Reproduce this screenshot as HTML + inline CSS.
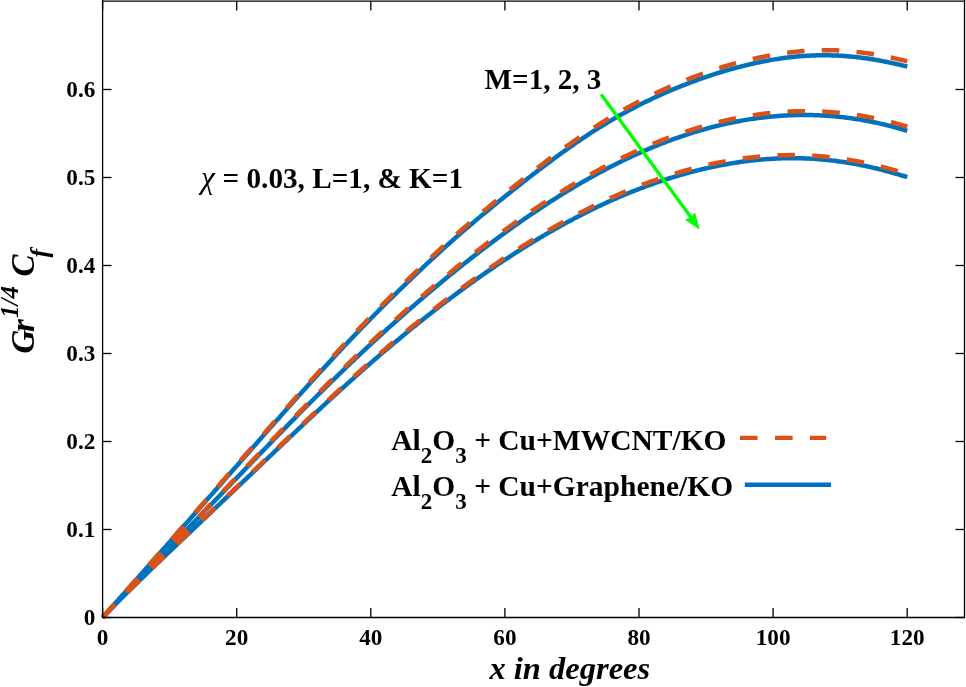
<!DOCTYPE html>
<html><head><meta charset="utf-8"><style>
html,body{margin:0;padding:0;background:#fff;}
body{width:966px;height:687px;overflow:hidden;position:relative;}
svg{position:absolute;left:0;top:0;will-change:transform;}
text{font-family:"Liberation Serif",serif;font-weight:bold;fill:#000;}
</style></head><body>
<svg width="966" height="687" viewBox="0 0 966 687">
<rect x="0" y="0" width="966" height="687" fill="#fff"/>
<g fill="none" stroke-width="4.5" stroke-linejoin="round" stroke-linecap="butt">
<path d="M102.60 617.50 L104.10 615.81 L105.60 614.12 L107.10 612.43 L108.60 610.74 L110.10 609.05 L111.60 607.37 L113.10 605.68 L114.60 603.99 L116.10 602.31 L117.60 600.62 L119.10 598.93 L120.60 597.25 L122.10 595.56 L123.60 593.87 L125.10 592.19 L126.60 590.50 L128.10 588.82 L129.60 587.13 L131.10 585.45 L132.60 583.76 L134.10 582.08 L135.60 580.39 L137.10 578.70 L138.60 577.02 L140.10 575.33 L141.60 573.65 L143.10 571.96 L144.60 570.27 L146.10 568.59 L147.60 566.90 L149.10 565.21 L150.60 563.52 L152.10 561.83 L153.60 560.15 L155.10 558.46 L156.60 556.77 L158.10 555.08 L159.60 553.39 L161.10 551.70 L162.60 550.01 L164.10 548.31 L165.60 546.62 L167.10 544.93 L168.60 543.24 L170.10 541.54 L171.60 539.85 L173.10 538.16 L174.60 536.46 L176.10 534.77 L177.60 533.07 L179.10 531.37 L180.60 529.68 L182.10 527.98 L183.60 526.28 L185.10 524.58 L186.60 522.89 L188.10 521.19 L189.60 519.49 L191.10 517.79 L192.60 516.09 L194.10 514.39 L195.60 512.68 L197.10 510.98 L198.60 509.28 L200.10 507.58 L201.60 505.87 L203.10 504.17 L204.60 502.47 L206.10 500.76 L207.60 499.06 L209.10 497.35 L210.60 495.64 L212.10 493.94 L213.60 492.23 L215.10 490.53 L216.60 488.82 L218.10 487.11 L219.60 485.40 L221.10 483.70 L222.60 481.99 L224.10 480.28 L225.60 478.57 L227.10 476.86 L228.60 475.15 L230.10 473.44 L231.60 471.74 L233.10 470.03 L234.60 468.32 L236.10 466.61 L237.60 464.90 L239.10 463.19 L240.60 461.48 L242.10 459.77 L243.60 458.07 L245.10 456.36 L246.60 454.65 L248.10 452.94 L249.60 451.23 L251.10 449.53 L252.60 447.82 L254.10 446.11 L255.60 444.41 L257.10 442.70 L258.60 441.00 L260.10 439.29 L261.60 437.59 L263.10 435.88 L264.60 434.18 L266.10 432.48 L267.60 430.78 L269.10 429.08 L270.60 427.38 L272.10 425.68 L273.60 423.98 L275.10 422.29 L276.60 420.59 L278.10 418.90 L279.60 417.21 L281.10 415.51 L282.60 413.82 L284.10 412.13 L285.60 410.45 L287.10 408.76 L288.60 407.07 L290.10 405.39 L291.60 403.71 L293.10 402.03 L294.60 400.35 L296.10 398.67 L297.60 397.00 L299.10 395.33 L300.60 393.66 L302.10 391.99 L303.60 390.32 L305.10 388.66 L306.60 386.99 L308.10 385.33 L309.60 383.68 L311.10 382.02 L312.60 380.37 L314.10 378.72 L315.60 377.07 L317.10 375.42 L318.60 373.78 L320.10 372.14 L321.60 370.51 L323.10 368.87 L324.60 367.24 L326.10 365.61 L327.60 363.99 L329.10 362.37 L330.60 360.75 L332.10 359.13 L333.60 357.52 L335.10 355.91 L336.60 354.30 L338.10 352.70 L339.60 351.10 L341.10 349.50 L342.60 347.91 L344.10 346.32 L345.60 344.73 L347.10 343.15 L348.60 341.57 L350.10 339.99 L351.60 338.42 L353.10 336.85 L354.60 335.28 L356.10 333.72 L357.60 332.16 L359.10 330.61 L360.60 329.05 L362.10 327.51 L363.60 325.96 L365.10 324.42 L366.60 322.88 L368.10 321.35 L369.60 319.82 L371.10 318.29 L372.60 316.77 L374.10 315.25 L375.60 313.73 L377.10 312.22 L378.60 310.71 L380.10 309.20 L381.60 307.70 L383.10 306.20 L384.60 304.70 L386.10 303.21 L387.60 301.72 L389.10 300.24 L390.60 298.75 L392.10 297.28 L393.60 295.80 L395.10 294.33 L396.60 292.86 L398.10 291.39 L399.60 289.93 L401.10 288.47 L402.60 287.02 L404.10 285.56 L405.60 284.11 L407.10 282.67 L408.60 281.22 L410.10 279.78 L411.60 278.34 L413.10 276.91 L414.60 275.47 L416.10 274.05 L417.60 272.62 L419.10 271.20 L420.60 269.77 L422.10 268.36 L423.60 266.94 L425.10 265.53 L426.60 264.12 L428.10 262.72 L429.60 261.32 L431.10 259.92 L432.60 258.53 L434.10 257.14 L435.60 255.75 L437.10 254.37 L438.60 252.99 L440.10 251.62 L441.60 250.25 L443.10 248.89 L444.60 247.53 L446.10 246.18 L447.60 244.83 L449.10 243.48 L450.60 242.14 L452.10 240.81 L453.60 239.48 L455.10 238.16 L456.60 236.84 L458.10 235.53 L459.60 234.22 L461.10 232.91 L462.60 231.62 L464.10 230.32 L465.60 229.03 L467.10 227.75 L468.60 226.47 L470.10 225.20 L471.60 223.92 L473.10 222.66 L474.60 221.40 L476.10 220.14 L477.60 218.88 L479.10 217.63 L480.60 216.38 L482.10 215.13 L483.60 213.89 L485.10 212.65 L486.60 211.42 L488.10 210.18 L489.60 208.95 L491.10 207.72 L492.60 206.50 L494.10 205.28 L495.60 204.06 L497.10 202.84 L498.60 201.62 L500.10 200.41 L501.60 199.20 L503.10 197.99 L504.60 196.79 L506.10 195.58 L507.60 194.38 L509.10 193.18 L510.60 191.99 L512.10 190.79 L513.60 189.60 L515.10 188.41 L516.60 187.23 L518.10 186.04 L519.60 184.86 L521.10 183.69 L522.60 182.51 L524.10 181.34 L525.60 180.17 L527.10 179.00 L528.60 177.83 L530.10 176.67 L531.60 175.51 L533.10 174.36 L534.60 173.20 L536.10 172.06 L537.60 170.91 L539.10 169.77 L540.60 168.62 L542.10 167.49 L543.60 166.35 L545.10 165.23 L546.60 164.10 L548.10 162.98 L549.60 161.86 L551.10 160.74 L552.60 159.63 L554.10 158.52 L555.60 157.42 L557.10 156.32 L558.60 155.23 L560.10 154.14 L561.60 153.05 L563.10 151.97 L564.60 150.89 L566.10 149.82 L567.60 148.75 L569.10 147.69 L570.60 146.63 L572.10 145.58 L573.60 144.54 L575.10 143.50 L576.60 142.46 L578.10 141.43 L579.60 140.41 L581.10 139.39 L582.60 138.38 L584.10 137.37 L585.60 136.37 L587.10 135.38 L588.60 134.39 L590.10 133.41 L591.60 132.44 L593.10 131.47 L594.60 130.51 L596.10 129.55 L597.60 128.60 L599.10 127.66 L600.60 126.73 L602.10 125.80 L603.60 124.88 L605.10 123.97 L606.60 123.06 L608.10 122.16 L609.60 121.27 L611.10 120.38 L612.60 119.50 L614.10 118.63 L615.60 117.76 L617.10 116.90 L618.60 116.05 L620.10 115.21 L621.60 114.37 L623.10 113.54 L624.60 112.71 L626.10 111.90 L627.60 111.08 L629.10 110.28 L630.60 109.48 L632.10 108.69 L633.60 107.91 L635.10 107.13 L636.60 106.36 L638.10 105.59 L639.60 104.83 L641.10 104.08 L642.60 103.33 L644.10 102.59 L645.60 101.86 L647.10 101.13 L648.60 100.41 L650.10 99.69 L651.60 98.98 L653.10 98.27 L654.60 97.58 L656.10 96.88 L657.60 96.20 L659.10 95.51 L660.60 94.84 L662.10 94.17 L663.60 93.50 L665.10 92.84 L666.60 92.19 L668.10 91.54 L669.60 90.90 L671.10 90.26 L672.60 89.63 L674.10 89.01 L675.60 88.39 L677.10 87.77 L678.60 87.16 L680.10 86.56 L681.60 85.96 L683.10 85.36 L684.60 84.78 L686.10 84.19 L687.60 83.61 L689.10 83.04 L690.60 82.47 L692.10 81.91 L693.60 81.36 L695.10 80.80 L696.60 80.26 L698.10 79.72 L699.60 79.18 L701.10 78.65 L702.60 78.13 L704.10 77.61 L705.60 77.09 L707.10 76.58 L708.60 76.08 L710.10 75.58 L711.60 75.08 L713.10 74.60 L714.60 74.11 L716.10 73.63 L717.60 73.16 L719.10 72.70 L720.60 72.23 L722.10 71.78 L723.60 71.33 L725.10 70.88 L726.60 70.44 L728.10 70.00 L729.60 69.58 L731.10 69.15 L732.60 68.73 L734.10 68.32 L735.60 67.91 L737.10 67.51 L738.60 67.11 L740.10 66.72 L741.60 66.34 L743.10 65.96 L744.60 65.59 L746.10 65.22 L747.60 64.86 L749.10 64.50 L750.60 64.15 L752.10 63.81 L753.60 63.47 L755.10 63.14 L756.60 62.81 L758.10 62.49 L759.60 62.18 L761.10 61.87 L762.60 61.57 L764.10 61.27 L765.60 60.98 L767.10 60.70 L768.60 60.43 L770.10 60.16 L771.60 59.89 L773.10 59.64 L774.60 59.39 L776.10 59.15 L777.60 58.91 L779.10 58.68 L780.60 58.46 L782.10 58.25 L783.60 58.04 L785.10 57.84 L786.60 57.64 L788.10 57.46 L789.60 57.28 L791.10 57.11 L792.60 56.94 L794.10 56.79 L795.60 56.64 L797.10 56.49 L798.60 56.36 L800.10 56.23 L801.60 56.11 L803.10 56.00 L804.60 55.90 L806.10 55.80 L807.60 55.72 L809.10 55.64 L810.60 55.56 L812.10 55.50 L813.60 55.44 L815.10 55.39 L816.60 55.35 L818.10 55.32 L819.60 55.29 L821.10 55.28 L822.60 55.27 L824.10 55.27 L825.60 55.27 L827.10 55.29 L828.60 55.31 L830.10 55.34 L831.60 55.38 L833.10 55.42 L834.60 55.48 L836.10 55.54 L837.60 55.61 L839.10 55.69 L840.60 55.77 L842.10 55.86 L843.60 55.96 L845.10 56.07 L846.60 56.19 L848.10 56.31 L849.60 56.44 L851.10 56.58 L852.60 56.73 L854.10 56.88 L855.60 57.04 L857.10 57.21 L858.60 57.38 L860.10 57.57 L861.60 57.76 L863.10 57.95 L864.60 58.16 L866.10 58.37 L867.60 58.59 L869.10 58.81 L870.60 59.04 L872.10 59.28 L873.60 59.53 L875.10 59.78 L876.60 60.04 L878.10 60.30 L879.60 60.57 L881.10 60.85 L882.60 61.13 L884.10 61.42 L885.60 61.72 L887.10 62.02 L888.60 62.33 L890.10 62.64 L891.60 62.96 L893.10 63.28 L894.60 63.61 L896.10 63.95 L897.60 64.29 L899.10 64.63 L900.60 64.98 L902.10 65.33 L903.60 65.69 L905.10 66.06 L906.60 66.43 L907.30 66.60" stroke="#0072bd" />
<path d="M102.60 617.50 L104.10 615.86 L105.60 614.22 L107.10 612.59 L108.60 610.96 L110.10 609.34 L111.60 607.72 L113.10 606.11 L114.60 604.50 L116.10 602.90 L117.60 601.29 L119.10 599.70 L120.60 598.11 L122.10 596.52 L123.60 594.93 L125.10 593.35 L126.60 591.77 L128.10 590.19 L129.60 588.62 L131.10 587.05 L132.60 585.48 L134.10 583.92 L135.60 582.35 L137.10 580.79 L138.60 579.23 L140.10 577.68 L141.60 576.12 L143.10 574.57 L144.60 573.02 L146.10 571.47 L147.60 569.92 L149.10 568.37 L150.60 566.82 L152.10 565.28 L153.60 563.73 L155.10 562.19 L156.60 560.65 L158.10 559.11 L159.60 557.57 L161.10 556.02 L162.60 554.48 L164.10 552.94 L165.60 551.40 L167.10 549.86 L168.60 548.32 L170.10 546.79 L171.60 545.25 L173.10 543.71 L174.60 542.17 L176.10 540.63 L177.60 539.09 L179.10 537.55 L180.60 536.01 L182.10 534.47 L183.60 532.93 L185.10 531.38 L186.60 529.84 L188.10 528.30 L189.60 526.76 L191.10 525.21 L192.60 523.67 L194.10 522.12 L195.60 520.58 L197.10 519.03 L198.60 517.49 L200.10 515.94 L201.60 514.39 L203.10 512.84 L204.60 511.29 L206.10 509.74 L207.60 508.19 L209.10 506.64 L210.60 505.09 L212.10 503.54 L213.60 501.98 L215.10 500.43 L216.60 498.88 L218.10 497.32 L219.60 495.76 L221.10 494.21 L222.60 492.65 L224.10 491.09 L225.60 489.54 L227.10 487.98 L228.60 486.42 L230.10 484.86 L231.60 483.30 L233.10 481.74 L234.60 480.19 L236.10 478.63 L237.60 477.07 L239.10 475.51 L240.60 473.95 L242.10 472.39 L243.60 470.83 L245.10 469.27 L246.60 467.71 L248.10 466.16 L249.60 464.60 L251.10 463.04 L252.60 461.48 L254.10 459.93 L255.60 458.37 L257.10 456.82 L258.60 455.27 L260.10 453.71 L261.60 452.16 L263.10 450.61 L264.60 449.06 L266.10 447.51 L267.60 445.96 L269.10 444.41 L270.60 442.87 L272.10 441.32 L273.60 439.78 L275.10 438.24 L276.60 436.70 L278.10 435.16 L279.60 433.62 L281.10 432.08 L282.60 430.55 L284.10 429.02 L285.60 427.48 L287.10 425.95 L288.60 424.43 L290.10 422.90 L291.60 421.37 L293.10 419.85 L294.60 418.33 L296.10 416.81 L297.60 415.29 L299.10 413.78 L300.60 412.26 L302.10 410.75 L303.60 409.24 L305.10 407.74 L306.60 406.23 L308.10 404.73 L309.60 403.23 L311.10 401.73 L312.60 400.23 L314.10 398.74 L315.60 397.25 L317.10 395.76 L318.60 394.27 L320.10 392.79 L321.60 391.30 L323.10 389.82 L324.60 388.35 L326.10 386.87 L327.60 385.40 L329.10 383.93 L330.60 382.46 L332.10 381.00 L333.60 379.54 L335.10 378.08 L336.60 376.62 L338.10 375.17 L339.60 373.71 L341.10 372.27 L342.60 370.82 L344.10 369.38 L345.60 367.94 L347.10 366.50 L348.60 365.06 L350.10 363.63 L351.60 362.20 L353.10 360.78 L354.60 359.35 L356.10 357.93 L357.60 356.52 L359.10 355.10 L360.60 353.69 L362.10 352.28 L363.60 350.88 L365.10 349.47 L366.60 348.07 L368.10 346.68 L369.60 345.28 L371.10 343.89 L372.60 342.50 L374.10 341.12 L375.60 339.74 L377.10 338.36 L378.60 336.98 L380.10 335.61 L381.60 334.24 L383.10 332.87 L384.60 331.51 L386.10 330.15 L387.60 328.79 L389.10 327.43 L390.60 326.08 L392.10 324.73 L393.60 323.39 L395.10 322.04 L396.60 320.70 L398.10 319.37 L399.60 318.04 L401.10 316.71 L402.60 315.38 L404.10 314.05 L405.60 312.73 L407.10 311.42 L408.60 310.10 L410.10 308.79 L411.60 307.48 L413.10 306.18 L414.60 304.88 L416.10 303.58 L417.60 302.28 L419.10 300.99 L420.60 299.70 L422.10 298.42 L423.60 297.13 L425.10 295.85 L426.60 294.58 L428.10 293.31 L429.60 292.04 L431.10 290.77 L432.60 289.51 L434.10 288.25 L435.60 286.99 L437.10 285.74 L438.60 284.49 L440.10 283.24 L441.60 282.00 L443.10 280.76 L444.60 279.53 L446.10 278.29 L447.60 277.07 L449.10 275.84 L450.60 274.62 L452.10 273.40 L453.60 272.18 L455.10 270.97 L456.60 269.76 L458.10 268.56 L459.60 267.36 L461.10 266.16 L462.60 264.96 L464.10 263.77 L465.60 262.59 L467.10 261.40 L468.60 260.22 L470.10 259.05 L471.60 257.87 L473.10 256.70 L474.60 255.54 L476.10 254.38 L477.60 253.22 L479.10 252.06 L480.60 250.91 L482.10 249.76 L483.60 248.62 L485.10 247.48 L486.60 246.34 L488.10 245.21 L489.60 244.08 L491.10 242.96 L492.60 241.84 L494.10 240.72 L495.60 239.60 L497.10 238.49 L498.60 237.39 L500.10 236.29 L501.60 235.19 L503.10 234.09 L504.60 233.00 L506.10 231.92 L507.60 230.83 L509.10 229.75 L510.60 228.68 L512.10 227.61 L513.60 226.54 L515.10 225.48 L516.60 224.42 L518.10 223.36 L519.60 222.31 L521.10 221.27 L522.60 220.22 L524.10 219.19 L525.60 218.15 L527.10 217.12 L528.60 216.09 L530.10 215.07 L531.60 214.05 L533.10 213.04 L534.60 212.03 L536.10 211.03 L537.60 210.02 L539.10 209.03 L540.60 208.03 L542.10 207.05 L543.60 206.06 L545.10 205.08 L546.60 204.11 L548.10 203.14 L549.60 202.17 L551.10 201.21 L552.60 200.25 L554.10 199.30 L555.60 198.35 L557.10 197.40 L558.60 196.46 L560.10 195.53 L561.60 194.60 L563.10 193.67 L564.60 192.75 L566.10 191.83 L567.60 190.92 L569.10 190.01 L570.60 189.11 L572.10 188.21 L573.60 187.31 L575.10 186.42 L576.60 185.54 L578.10 184.66 L579.60 183.78 L581.10 182.91 L582.60 182.05 L584.10 181.19 L585.60 180.33 L587.10 179.48 L588.60 178.63 L590.10 177.79 L591.60 176.95 L593.10 176.12 L594.60 175.29 L596.10 174.47 L597.60 173.65 L599.10 172.84 L600.60 172.04 L602.10 171.23 L603.60 170.44 L605.10 169.64 L606.60 168.86 L608.10 168.08 L609.60 167.30 L611.10 166.53 L612.60 165.76 L614.10 165.00 L615.60 164.24 L617.10 163.49 L618.60 162.75 L620.10 162.00 L621.60 161.27 L623.10 160.54 L624.60 159.81 L626.10 159.09 L627.60 158.38 L629.10 157.67 L630.60 156.97 L632.10 156.27 L633.60 155.57 L635.10 154.89 L636.60 154.20 L638.10 153.53 L639.60 152.86 L641.10 152.19 L642.60 151.53 L644.10 150.87 L645.60 150.22 L647.10 149.58 L648.60 148.94 L650.10 148.31 L651.60 147.68 L653.10 147.06 L654.60 146.44 L656.10 145.83 L657.60 145.22 L659.10 144.62 L660.60 144.03 L662.10 143.44 L663.60 142.86 L665.10 142.28 L666.60 141.71 L668.10 141.14 L669.60 140.58 L671.10 140.03 L672.60 139.48 L674.10 138.94 L675.60 138.40 L677.10 137.87 L678.60 137.34 L680.10 136.82 L681.60 136.31 L683.10 135.80 L684.60 135.30 L686.10 134.80 L687.60 134.31 L689.10 133.83 L690.60 133.35 L692.10 132.87 L693.60 132.41 L695.10 131.95 L696.60 131.49 L698.10 131.04 L699.60 130.60 L701.10 130.16 L702.60 129.73 L704.10 129.30 L705.60 128.88 L707.10 128.47 L708.60 128.06 L710.10 127.66 L711.60 127.27 L713.10 126.88 L714.60 126.49 L716.10 126.12 L717.60 125.74 L719.10 125.38 L720.60 125.02 L722.10 124.67 L723.60 124.32 L725.10 123.98 L726.60 123.65 L728.10 123.32 L729.60 123.00 L731.10 122.68 L732.60 122.37 L734.10 122.07 L735.60 121.77 L737.10 121.48 L738.60 121.20 L740.10 120.92 L741.60 120.65 L743.10 120.38 L744.60 120.12 L746.10 119.87 L747.60 119.62 L749.10 119.38 L750.60 119.15 L752.10 118.92 L753.60 118.70 L755.10 118.48 L756.60 118.27 L758.10 118.07 L759.60 117.87 L761.10 117.68 L762.60 117.50 L764.10 117.32 L765.60 117.15 L767.10 116.99 L768.60 116.83 L770.10 116.68 L771.60 116.54 L773.10 116.40 L774.60 116.27 L776.10 116.14 L777.60 116.02 L779.10 115.91 L780.60 115.80 L782.10 115.70 L783.60 115.61 L785.10 115.52 L786.60 115.44 L788.10 115.37 L789.60 115.30 L791.10 115.24 L792.60 115.19 L794.10 115.14 L795.60 115.10 L797.10 115.07 L798.60 115.04 L800.10 115.02 L801.60 115.00 L803.10 115.00 L804.60 115.00 L806.10 115.00 L807.60 115.01 L809.10 115.03 L810.60 115.06 L812.10 115.09 L813.60 115.13 L815.10 115.17 L816.60 115.23 L818.10 115.28 L819.60 115.35 L821.10 115.42 L822.60 115.50 L824.10 115.58 L825.60 115.68 L827.10 115.78 L828.60 115.88 L830.10 115.99 L831.60 116.11 L833.10 116.24 L834.60 116.37 L836.10 116.51 L837.60 116.65 L839.10 116.81 L840.60 116.97 L842.10 117.13 L843.60 117.30 L845.10 117.48 L846.60 117.67 L848.10 117.86 L849.60 118.06 L851.10 118.27 L852.60 118.48 L854.10 118.70 L855.60 118.93 L857.10 119.16 L858.60 119.40 L860.10 119.65 L861.60 119.90 L863.10 120.16 L864.60 120.43 L866.10 120.70 L867.60 120.99 L869.10 121.27 L870.60 121.57 L872.10 121.87 L873.60 122.18 L875.10 122.49 L876.60 122.82 L878.10 123.14 L879.60 123.48 L881.10 123.82 L882.60 124.17 L884.10 124.53 L885.60 124.89 L887.10 125.26 L888.60 125.64 L890.10 126.02 L891.60 126.41 L893.10 126.81 L894.60 127.21 L896.10 127.62 L897.60 128.04 L899.10 128.46 L900.60 128.90 L902.10 129.33 L903.60 129.78 L905.10 130.23 L906.60 130.69 L907.30 130.91" stroke="#0072bd" />
<path d="M102.60 617.50 L104.10 615.95 L105.60 614.41 L107.10 612.87 L108.60 611.33 L110.10 609.80 L111.60 608.27 L113.10 606.75 L114.60 605.23 L116.10 603.72 L117.60 602.20 L119.10 600.70 L120.60 599.19 L122.10 597.70 L123.60 596.20 L125.10 594.71 L126.60 593.22 L128.10 591.73 L129.60 590.25 L131.10 588.77 L132.60 587.29 L134.10 585.81 L135.60 584.34 L137.10 582.87 L138.60 581.41 L140.10 579.94 L141.60 578.48 L143.10 577.02 L144.60 575.56 L146.10 574.11 L147.60 572.65 L149.10 571.20 L150.60 569.75 L152.10 568.31 L153.60 566.86 L155.10 565.42 L156.60 563.97 L158.10 562.53 L159.60 561.09 L161.10 559.65 L162.60 558.22 L164.10 556.78 L165.60 555.35 L167.10 553.91 L168.60 552.48 L170.10 551.05 L171.60 549.62 L173.10 548.19 L174.60 546.76 L176.10 545.33 L177.60 543.90 L179.10 542.48 L180.60 541.05 L182.10 539.62 L183.60 538.20 L185.10 536.77 L186.60 535.35 L188.10 533.93 L189.60 532.50 L191.10 531.08 L192.60 529.66 L194.10 528.23 L195.60 526.81 L197.10 525.39 L198.60 523.97 L200.10 522.54 L201.60 521.12 L203.10 519.70 L204.60 518.28 L206.10 516.86 L207.60 515.43 L209.10 514.01 L210.60 512.59 L212.10 511.17 L213.60 509.74 L215.10 508.32 L216.60 506.90 L218.10 505.47 L219.60 504.05 L221.10 502.63 L222.60 501.20 L224.10 499.78 L225.60 498.36 L227.10 496.93 L228.60 495.51 L230.10 494.08 L231.60 492.66 L233.10 491.23 L234.60 489.80 L236.10 488.38 L237.60 486.95 L239.10 485.53 L240.60 484.10 L242.10 482.67 L243.60 481.24 L245.10 479.82 L246.60 478.39 L248.10 476.96 L249.60 475.53 L251.10 474.10 L252.60 472.67 L254.10 471.25 L255.60 469.82 L257.10 468.39 L258.60 466.96 L260.10 465.53 L261.60 464.10 L263.10 462.67 L264.60 461.24 L266.10 459.81 L267.60 458.38 L269.10 456.95 L270.60 455.53 L272.10 454.10 L273.60 452.67 L275.10 451.24 L276.60 449.81 L278.10 448.38 L279.60 446.96 L281.10 445.53 L282.60 444.10 L284.10 442.68 L285.60 441.25 L287.10 439.83 L288.60 438.40 L290.10 436.98 L291.60 435.56 L293.10 434.13 L294.60 432.71 L296.10 431.29 L297.60 429.87 L299.10 428.45 L300.60 427.04 L302.10 425.62 L303.60 424.21 L305.10 422.79 L306.60 421.38 L308.10 419.97 L309.60 418.56 L311.10 417.15 L312.60 415.74 L314.10 414.34 L315.60 412.94 L317.10 411.53 L318.60 410.13 L320.10 408.74 L321.60 407.34 L323.10 405.95 L324.60 404.55 L326.10 403.16 L327.60 401.78 L329.10 400.39 L330.60 399.01 L332.10 397.63 L333.60 396.25 L335.10 394.87 L336.60 393.50 L338.10 392.13 L339.60 390.76 L341.10 389.39 L342.60 388.03 L344.10 386.67 L345.60 385.31 L347.10 383.95 L348.60 382.60 L350.10 381.25 L351.60 379.90 L353.10 378.55 L354.60 377.21 L356.10 375.87 L357.60 374.54 L359.10 373.20 L360.60 371.87 L362.10 370.55 L363.60 369.22 L365.10 367.90 L366.60 366.58 L368.10 365.27 L369.60 363.96 L371.10 362.65 L372.60 361.34 L374.10 360.04 L375.60 358.74 L377.10 357.44 L378.60 356.15 L380.10 354.86 L381.60 353.58 L383.10 352.29 L384.60 351.01 L386.10 349.74 L387.60 348.47 L389.10 347.20 L390.60 345.93 L392.10 344.67 L393.60 343.41 L395.10 342.15 L396.60 340.90 L398.10 339.65 L399.60 338.40 L401.10 337.16 L402.60 335.92 L404.10 334.69 L405.60 333.45 L407.10 332.23 L408.60 331.00 L410.10 329.78 L411.60 328.56 L413.10 327.35 L414.60 326.13 L416.10 324.93 L417.60 323.72 L419.10 322.52 L420.60 321.32 L422.10 320.13 L423.60 318.94 L425.10 317.75 L426.60 316.57 L428.10 315.39 L429.60 314.21 L431.10 313.04 L432.60 311.87 L434.10 310.70 L435.60 309.54 L437.10 308.38 L438.60 307.22 L440.10 306.07 L441.60 304.92 L443.10 303.78 L444.60 302.64 L446.10 301.50 L447.60 300.37 L449.10 299.23 L450.60 298.11 L452.10 296.98 L453.60 295.86 L455.10 294.75 L456.60 293.64 L458.10 292.53 L459.60 291.42 L461.10 290.32 L462.60 289.22 L464.10 288.13 L465.60 287.04 L467.10 285.95 L468.60 284.87 L470.10 283.79 L471.60 282.71 L473.10 281.64 L474.60 280.57 L476.10 279.50 L477.60 278.44 L479.10 277.39 L480.60 276.33 L482.10 275.28 L483.60 274.24 L485.10 273.19 L486.60 272.15 L488.10 271.12 L489.60 270.09 L491.10 269.06 L492.60 268.04 L494.10 267.02 L495.60 266.00 L497.10 264.99 L498.60 263.99 L500.10 262.98 L501.60 261.98 L503.10 260.99 L504.60 259.99 L506.10 259.01 L507.60 258.02 L509.10 257.04 L510.60 256.07 L512.10 255.09 L513.60 254.13 L515.10 253.16 L516.60 252.20 L518.10 251.25 L519.60 250.29 L521.10 249.35 L522.60 248.40 L524.10 247.46 L525.60 246.53 L527.10 245.60 L528.60 244.67 L530.10 243.75 L531.60 242.83 L533.10 241.91 L534.60 241.00 L536.10 240.10 L537.60 239.20 L539.10 238.30 L540.60 237.41 L542.10 236.52 L543.60 235.63 L545.10 234.75 L546.60 233.88 L548.10 233.00 L549.60 232.14 L551.10 231.27 L552.60 230.42 L554.10 229.56 L555.60 228.71 L557.10 227.87 L558.60 227.03 L560.10 226.19 L561.60 225.36 L563.10 224.53 L564.60 223.71 L566.10 222.89 L567.60 222.08 L569.10 221.27 L570.60 220.47 L572.10 219.67 L573.60 218.87 L575.10 218.08 L576.60 217.30 L578.10 216.52 L579.60 215.74 L581.10 214.97 L582.60 214.20 L584.10 213.44 L585.60 212.68 L587.10 211.93 L588.60 211.19 L590.10 210.44 L591.60 209.71 L593.10 208.97 L594.60 208.25 L596.10 207.52 L597.60 206.81 L599.10 206.09 L600.60 205.38 L602.10 204.68 L603.60 203.98 L605.10 203.29 L606.60 202.60 L608.10 201.92 L609.60 201.24 L611.10 200.57 L612.60 199.90 L614.10 199.24 L615.60 198.58 L617.10 197.92 L618.60 197.28 L620.10 196.63 L621.60 195.99 L623.10 195.36 L624.60 194.73 L626.10 194.11 L627.60 193.49 L629.10 192.88 L630.60 192.27 L632.10 191.67 L633.60 191.07 L635.10 190.48 L636.60 189.89 L638.10 189.31 L639.60 188.73 L641.10 188.16 L642.60 187.59 L644.10 187.03 L645.60 186.47 L647.10 185.92 L648.60 185.38 L650.10 184.83 L651.60 184.30 L653.10 183.77 L654.60 183.24 L656.10 182.72 L657.60 182.20 L659.10 181.69 L660.60 181.19 L662.10 180.69 L663.60 180.19 L665.10 179.70 L666.60 179.22 L668.10 178.74 L669.60 178.26 L671.10 177.79 L672.60 177.33 L674.10 176.87 L675.60 176.41 L677.10 175.97 L678.60 175.52 L680.10 175.08 L681.60 174.65 L683.10 174.22 L684.60 173.80 L686.10 173.39 L687.60 172.97 L689.10 172.57 L690.60 172.17 L692.10 171.77 L693.60 171.38 L695.10 171.00 L696.60 170.62 L698.10 170.24 L699.60 169.87 L701.10 169.51 L702.60 169.15 L704.10 168.80 L705.60 168.45 L707.10 168.11 L708.60 167.77 L710.10 167.44 L711.60 167.12 L713.10 166.80 L714.60 166.48 L716.10 166.18 L717.60 165.87 L719.10 165.57 L720.60 165.28 L722.10 165.00 L723.60 164.72 L725.10 164.44 L726.60 164.17 L728.10 163.91 L729.60 163.65 L731.10 163.40 L732.60 163.15 L734.10 162.91 L735.60 162.67 L737.10 162.44 L738.60 162.22 L740.10 162.00 L741.60 161.79 L743.10 161.59 L744.60 161.38 L746.10 161.19 L747.60 161.00 L749.10 160.82 L750.60 160.64 L752.10 160.47 L753.60 160.31 L755.10 160.15 L756.60 159.99 L758.10 159.85 L759.60 159.71 L761.10 159.57 L762.60 159.44 L764.10 159.32 L765.60 159.21 L767.10 159.09 L768.60 158.99 L770.10 158.89 L771.60 158.80 L773.10 158.72 L774.60 158.64 L776.10 158.56 L777.60 158.50 L779.10 158.44 L780.60 158.38 L782.10 158.34 L783.60 158.30 L785.10 158.26 L786.60 158.23 L788.10 158.21 L789.60 158.20 L791.10 158.19 L792.60 158.19 L794.10 158.19 L795.60 158.20 L797.10 158.22 L798.60 158.24 L800.10 158.27 L801.60 158.31 L803.10 158.35 L804.60 158.41 L806.10 158.46 L807.60 158.53 L809.10 158.60 L810.60 158.67 L812.10 158.76 L813.60 158.85 L815.10 158.95 L816.60 159.05 L818.10 159.16 L819.60 159.28 L821.10 159.40 L822.60 159.53 L824.10 159.67 L825.60 159.81 L827.10 159.96 L828.60 160.12 L830.10 160.28 L831.60 160.45 L833.10 160.63 L834.60 160.81 L836.10 161.00 L837.60 161.20 L839.10 161.40 L840.60 161.61 L842.10 161.83 L843.60 162.05 L845.10 162.28 L846.60 162.52 L848.10 162.76 L849.60 163.01 L851.10 163.27 L852.60 163.53 L854.10 163.79 L855.60 164.07 L857.10 164.35 L858.60 164.64 L860.10 164.93 L861.60 165.23 L863.10 165.54 L864.60 165.85 L866.10 166.17 L867.60 166.49 L869.10 166.82 L870.60 167.16 L872.10 167.50 L873.60 167.85 L875.10 168.20 L876.60 168.56 L878.10 168.93 L879.60 169.30 L881.10 169.68 L882.60 170.06 L884.10 170.45 L885.60 170.84 L887.10 171.24 L888.60 171.65 L890.10 172.06 L891.60 172.48 L893.10 172.90 L894.60 173.33 L896.10 173.76 L897.60 174.20 L899.10 174.64 L900.60 175.09 L902.10 175.55 L903.60 176.01 L905.10 176.47 L906.60 176.94 L907.30 177.16" stroke="#0072bd" />
<path d="M102.60 617.50 L104.10 615.80 L105.60 614.10 L107.10 612.40 L108.60 610.70 L110.10 609.00 L111.60 607.30 L113.10 605.60 L114.60 603.90 L116.10 602.20 L117.60 600.51 L119.10 598.81 L120.60 597.11 L122.10 595.42 L123.60 593.72 L125.10 592.02 L126.60 590.32 L128.10 588.63 L129.60 586.93 L131.10 585.23 L132.60 583.54 L134.10 581.84 L135.60 580.14 L137.10 578.45 L138.60 576.75 L140.10 575.05 L141.60 573.35 L143.10 571.66 L144.60 569.96 L146.10 568.26 L147.60 566.56 L149.10 564.86 L150.60 563.16 L152.10 561.46 L153.60 559.77 L155.10 558.06 L156.60 556.36 L158.10 554.66 L159.60 552.96 L161.10 551.26 L162.60 549.56 L164.10 547.86 L165.60 546.15 L167.10 544.45 L168.60 542.75 L170.10 541.04 L171.60 539.34 L173.10 537.63 L174.60 535.92 L176.10 534.22 L177.60 532.51 L179.10 530.80 L180.60 529.10 L182.10 527.39 L183.60 525.68 L185.10 523.97 L186.60 522.26 L188.10 520.55 L189.60 518.84 L191.10 517.13 L192.60 515.42 L194.10 513.70 L195.60 511.99 L197.10 510.28 L198.60 508.56 L200.10 506.85 L201.60 505.13 L203.10 503.42 L204.60 501.70 L206.10 499.99 L207.60 498.27 L209.10 496.56 L210.60 494.84 L212.10 493.12 L213.60 491.40 L215.10 489.69 L216.60 487.97 L218.10 486.25 L219.60 484.53 L221.10 482.81 L222.60 481.09 L224.10 479.37 L225.60 477.65 L227.10 475.93 L228.60 474.21 L230.10 472.49 L231.60 470.77 L233.10 469.05 L234.60 467.33 L236.10 465.61 L237.60 463.89 L239.10 462.17 L240.60 460.45 L242.10 458.73 L243.60 457.01 L245.10 455.29 L246.60 453.57 L248.10 451.86 L249.60 450.14 L251.10 448.42 L252.60 446.70 L254.10 444.98 L255.60 443.27 L257.10 441.55 L258.60 439.83 L260.10 438.12 L261.60 436.40 L263.10 434.69 L264.60 432.97 L266.10 431.26 L267.60 429.55 L269.10 427.84 L270.60 426.13 L272.10 424.42 L273.60 422.71 L275.10 421.00 L276.60 419.30 L278.10 417.59 L279.60 415.89 L281.10 414.18 L282.60 412.48 L284.10 410.78 L285.60 409.08 L287.10 407.38 L288.60 405.69 L290.10 403.99 L291.60 402.30 L293.10 400.61 L294.60 398.92 L296.10 397.23 L297.60 395.55 L299.10 393.86 L300.60 392.18 L302.10 390.50 L303.60 388.82 L305.10 387.15 L306.60 385.47 L308.10 383.80 L309.60 382.13 L311.10 380.47 L312.60 378.80 L314.10 377.14 L315.60 375.48 L317.10 373.83 L318.60 372.17 L320.10 370.52 L321.60 368.87 L323.10 367.23 L324.60 365.59 L326.10 363.95 L327.60 362.31 L329.10 360.68 L330.60 359.05 L332.10 357.42 L333.60 355.79 L335.10 354.17 L336.60 352.56 L338.10 350.94 L339.60 349.33 L341.10 347.72 L342.60 346.12 L344.10 344.52 L345.60 342.92 L347.10 341.32 L348.60 339.73 L350.10 338.15 L351.60 336.56 L353.10 334.98 L354.60 333.40 L356.10 331.83 L357.60 330.26 L359.10 328.69 L360.60 327.13 L362.10 325.57 L363.60 324.01 L365.10 322.46 L366.60 320.91 L368.10 319.37 L369.60 317.83 L371.10 316.29 L372.60 314.75 L374.10 313.22 L375.60 311.70 L377.10 310.17 L378.60 308.65 L380.10 307.14 L381.60 305.63 L383.10 304.12 L384.60 302.61 L386.10 301.11 L387.60 299.61 L389.10 298.11 L390.60 296.62 L392.10 295.13 L393.60 293.65 L395.10 292.17 L396.60 290.69 L398.10 289.21 L399.60 287.74 L401.10 286.27 L402.60 284.80 L404.10 283.34 L405.60 281.88 L407.10 280.42 L408.60 278.97 L410.10 277.52 L411.60 276.07 L413.10 274.62 L414.60 273.18 L416.10 271.74 L417.60 270.30 L419.10 268.87 L420.60 267.44 L422.10 266.01 L423.60 264.59 L425.10 263.17 L426.60 261.75 L428.10 260.34 L429.60 258.93 L431.10 257.52 L432.60 256.11 L434.10 254.71 L435.60 253.32 L437.10 251.93 L438.60 250.54 L440.10 249.16 L441.60 247.78 L443.10 246.40 L444.60 245.04 L446.10 243.67 L447.60 242.31 L449.10 240.96 L450.60 239.61 L452.10 238.26 L453.60 236.93 L455.10 235.59 L456.60 234.26 L458.10 232.94 L459.60 231.62 L461.10 230.31 L462.60 229.00 L464.10 227.70 L465.60 226.40 L467.10 225.10 L468.60 223.81 L470.10 222.53 L471.60 221.25 L473.10 219.97 L474.60 218.70 L476.10 217.43 L477.60 216.16 L479.10 214.90 L480.60 213.64 L482.10 212.39 L483.60 211.14 L485.10 209.89 L486.60 208.64 L488.10 207.40 L489.60 206.16 L491.10 204.92 L492.60 203.68 L494.10 202.45 L495.60 201.22 L497.10 199.99 L498.60 198.77 L500.10 197.54 L501.60 196.32 L503.10 195.10 L504.60 193.89 L506.10 192.68 L507.60 191.47 L509.10 190.27 L510.60 189.06 L512.10 187.87 L513.60 186.67 L515.10 185.47 L516.60 184.28 L518.10 183.09 L519.60 181.91 L521.10 180.72 L522.60 179.54 L524.10 178.36 L525.60 177.18 L527.10 176.01 L528.60 174.84 L530.10 173.67 L531.60 172.51 L533.10 171.35 L534.60 170.19 L536.10 169.03 L537.60 167.88 L539.10 166.73 L540.60 165.58 L542.10 164.44 L543.60 163.30 L545.10 162.17 L546.60 161.03 L548.10 159.90 L549.60 158.78 L551.10 157.66 L552.60 156.54 L554.10 155.43 L555.60 154.32 L557.10 153.21 L558.60 152.11 L560.10 151.02 L561.60 149.92 L563.10 148.84 L564.60 147.75 L566.10 146.68 L567.60 145.60 L569.10 144.54 L570.60 143.47 L572.10 142.42 L573.60 141.36 L575.10 140.32 L576.60 139.27 L578.10 138.24 L579.60 137.21 L581.10 136.19 L582.60 135.17 L584.10 134.16 L585.60 133.15 L587.10 132.15 L588.60 131.16 L590.10 130.17 L591.60 129.19 L593.10 128.22 L594.60 127.25 L596.10 126.29 L597.60 125.33 L599.10 124.39 L600.60 123.45 L602.10 122.51 L603.60 121.59 L605.10 120.67 L606.60 119.75 L608.10 118.83 L609.60 117.92 L611.10 117.02 L612.60 116.12 L614.10 115.23 L615.60 114.35 L617.10 113.47 L618.60 112.60 L620.10 111.74 L621.60 110.89 L623.10 110.04 L624.60 109.20 L626.10 108.36 L627.60 107.53 L629.10 106.71 L630.60 105.90 L632.10 105.09 L633.60 104.29 L635.10 103.49 L636.60 102.70 L638.10 101.92 L639.60 101.14 L641.10 100.37 L642.60 99.61 L644.10 98.85 L645.60 98.10 L647.10 97.35 L648.60 96.61 L650.10 95.88 L651.60 95.15 L653.10 94.43 L654.60 93.72 L656.10 93.01 L657.60 92.30 L659.10 91.60 L660.60 90.91 L662.10 90.22 L663.60 89.54 L665.10 88.86 L666.60 88.19 L668.10 87.53 L669.60 86.87 L671.10 86.22 L672.60 85.57 L674.10 84.92 L675.60 84.29 L677.10 83.65 L678.60 83.03 L680.10 82.41 L681.60 81.79 L683.10 81.18 L684.60 80.57 L686.10 79.97 L687.60 79.38 L689.10 78.79 L690.60 78.20 L692.10 77.62 L693.60 77.05 L695.10 76.48 L696.60 75.92 L698.10 75.36 L699.60 74.81 L701.10 74.26 L702.60 73.72 L704.10 73.18 L705.60 72.65 L707.10 72.12 L708.60 71.60 L710.10 71.08 L711.60 70.57 L713.10 70.07 L714.60 69.57 L716.10 69.07 L717.60 68.58 L719.10 68.10 L720.60 67.63 L722.10 67.17 L723.60 66.72 L725.10 66.27 L726.60 65.83 L728.10 65.39 L729.60 64.96 L731.10 64.53 L732.60 64.11 L734.10 63.69 L735.60 63.28 L737.10 62.88 L738.60 62.48 L740.10 62.09 L741.60 61.70 L743.10 61.32 L744.60 60.94 L746.10 60.57 L747.60 60.20 L749.10 59.85 L750.60 59.49 L752.10 59.15 L753.60 58.81 L755.10 58.47 L756.60 58.14 L758.10 57.82 L759.60 57.50 L761.10 57.19 L762.60 56.89 L764.10 56.59 L765.60 56.30 L767.10 56.01 L768.60 55.73 L770.10 55.46 L771.60 55.20 L773.10 54.94 L774.60 54.68 L776.10 54.42 L777.60 54.18 L779.10 53.94 L780.60 53.70 L782.10 53.48 L783.60 53.26 L785.10 53.05 L786.60 52.84 L788.10 52.64 L789.60 52.45 L791.10 52.27 L792.60 52.10 L794.10 51.93 L795.60 51.77 L797.10 51.62 L798.60 51.47 L800.10 51.33 L801.60 51.20 L803.10 51.08 L804.60 50.96 L806.10 50.86 L807.60 50.76 L809.10 50.67 L810.60 50.58 L812.10 50.51 L813.60 50.44 L815.10 50.38 L816.60 50.33 L818.10 50.28 L819.60 50.25 L821.10 50.22 L822.60 50.20 L824.10 50.19 L825.60 50.18 L827.10 50.18 L828.60 50.20 L830.10 50.21 L831.60 50.24 L833.10 50.28 L834.60 50.32 L836.10 50.37 L837.60 50.43 L839.10 50.49 L840.60 50.57 L842.10 50.66 L843.60 50.76 L845.10 50.86 L846.60 50.98 L848.10 51.10 L849.60 51.23 L851.10 51.36 L852.60 51.51 L854.10 51.66 L855.60 51.82 L857.10 51.98 L858.60 52.16 L860.10 52.34 L861.60 52.52 L863.10 52.72 L864.60 52.92 L866.10 53.13 L867.60 53.35 L869.10 53.57 L870.60 53.80 L872.10 54.03 L873.60 54.28 L875.10 54.53 L876.60 54.78 L878.10 55.05 L879.60 55.31 L881.10 55.59 L882.60 55.87 L884.10 56.16 L885.60 56.45 L887.10 56.75 L888.60 57.05 L890.10 57.37 L891.60 57.68 L893.10 58.00 L894.60 58.33 L896.10 58.66 L897.60 59.00 L899.10 59.34 L900.60 59.69 L902.10 60.04 L903.60 60.40 L905.10 60.76 L906.60 61.13 L907.30 61.30" stroke="#d95319" stroke-dasharray="17.6 17.2" />
<path d="M102.60 617.50 L104.10 615.85 L105.60 614.20 L107.10 612.56 L108.60 610.92 L110.10 609.29 L111.60 607.66 L113.10 606.03 L114.60 604.42 L116.10 602.80 L117.60 601.19 L119.10 599.58 L120.60 597.98 L122.10 596.38 L123.60 594.79 L125.10 593.19 L126.60 591.60 L128.10 590.02 L129.60 588.43 L131.10 586.85 L132.60 585.27 L134.10 583.70 L135.60 582.12 L137.10 580.55 L138.60 578.98 L140.10 577.42 L141.60 575.85 L143.10 574.29 L144.60 572.73 L146.10 571.16 L147.60 569.61 L149.10 568.05 L150.60 566.49 L152.10 564.93 L153.60 563.38 L155.10 561.83 L156.60 560.27 L158.10 558.72 L159.60 557.17 L161.10 555.62 L162.60 554.07 L164.10 552.52 L165.60 550.97 L167.10 549.42 L168.60 547.87 L170.10 546.32 L171.60 544.77 L173.10 543.22 L174.60 541.67 L176.10 540.12 L177.60 538.57 L179.10 537.02 L180.60 535.46 L182.10 533.91 L183.60 532.36 L185.10 530.81 L186.60 529.26 L188.10 527.70 L189.60 526.15 L191.10 524.60 L192.60 523.04 L194.10 521.49 L195.60 519.93 L197.10 518.38 L198.60 516.82 L200.10 515.26 L201.60 513.70 L203.10 512.14 L204.60 510.58 L206.10 509.02 L207.60 507.46 L209.10 505.90 L210.60 504.34 L212.10 502.77 L213.60 501.21 L215.10 499.65 L216.60 498.08 L218.10 496.52 L219.60 494.95 L221.10 493.38 L222.60 491.82 L224.10 490.25 L225.60 488.68 L227.10 487.11 L228.60 485.54 L230.10 483.97 L231.60 482.41 L233.10 480.84 L234.60 479.27 L236.10 477.70 L237.60 476.13 L239.10 474.56 L240.60 472.99 L242.10 471.42 L243.60 469.85 L245.10 468.28 L246.60 466.71 L248.10 465.14 L249.60 463.57 L251.10 462.01 L252.60 460.44 L254.10 458.87 L255.60 457.31 L257.10 455.74 L258.60 454.18 L260.10 452.62 L261.60 451.05 L263.10 449.49 L264.60 447.93 L266.10 446.37 L267.60 444.81 L269.10 443.26 L270.60 441.70 L272.10 440.14 L273.60 438.59 L275.10 437.04 L276.60 435.49 L278.10 433.94 L279.60 432.39 L281.10 430.84 L282.60 429.30 L284.10 427.75 L285.60 426.21 L287.10 424.67 L288.60 423.13 L290.10 421.59 L291.60 420.06 L293.10 418.53 L294.60 416.99 L296.10 415.46 L297.60 413.94 L299.10 412.41 L300.60 410.89 L302.10 409.36 L303.60 407.84 L305.10 406.33 L306.60 404.81 L308.10 403.30 L309.60 401.79 L311.10 400.28 L312.60 398.77 L314.10 397.27 L315.60 395.76 L317.10 394.26 L318.60 392.77 L320.10 391.27 L321.60 389.78 L323.10 388.29 L324.60 386.80 L326.10 385.32 L327.60 383.83 L329.10 382.35 L330.60 380.87 L332.10 379.40 L333.60 377.93 L335.10 376.46 L336.60 374.99 L338.10 373.53 L339.60 372.06 L341.10 370.61 L342.60 369.15 L344.10 367.70 L345.60 366.25 L347.10 364.80 L348.60 363.35 L350.10 361.91 L351.60 360.47 L353.10 359.03 L354.60 357.60 L356.10 356.17 L357.60 354.74 L359.10 353.32 L360.60 351.89 L362.10 350.48 L363.60 349.06 L365.10 347.65 L366.60 346.24 L368.10 344.83 L369.60 343.42 L371.10 342.02 L372.60 340.62 L374.10 339.23 L375.60 337.84 L377.10 336.45 L378.60 335.06 L380.10 333.68 L381.60 332.30 L383.10 330.92 L384.60 329.54 L386.10 328.17 L387.60 326.80 L389.10 325.44 L390.60 324.08 L392.10 322.72 L393.60 321.36 L395.10 320.01 L396.60 318.66 L398.10 317.31 L399.60 315.97 L401.10 314.63 L402.60 313.29 L404.10 311.96 L405.60 310.63 L407.10 309.30 L408.60 307.97 L410.10 306.65 L411.60 305.33 L413.10 304.02 L414.60 302.71 L416.10 301.40 L417.60 300.09 L419.10 298.79 L420.60 297.49 L422.10 296.20 L423.60 294.90 L425.10 293.61 L426.60 292.33 L428.10 291.05 L429.60 289.77 L431.10 288.49 L432.60 287.22 L434.10 285.95 L435.60 284.68 L437.10 283.42 L438.60 282.16 L440.10 280.90 L441.60 279.65 L443.10 278.40 L444.60 277.16 L446.10 275.91 L447.60 274.67 L449.10 273.44 L450.60 272.21 L452.10 270.98 L453.60 269.75 L455.10 268.53 L456.60 267.31 L458.10 266.10 L459.60 264.89 L461.10 263.68 L462.60 262.47 L464.10 261.27 L465.60 260.07 L467.10 258.88 L468.60 257.69 L470.10 256.50 L471.60 255.32 L473.10 254.14 L474.60 252.97 L476.10 251.79 L477.60 250.63 L479.10 249.46 L480.60 248.30 L482.10 247.14 L483.60 245.99 L485.10 244.84 L486.60 243.69 L488.10 242.55 L489.60 241.41 L491.10 240.27 L492.60 239.14 L494.10 238.02 L495.60 236.89 L497.10 235.77 L498.60 234.66 L500.10 233.54 L501.60 232.43 L503.10 231.33 L504.60 230.23 L506.10 229.13 L507.60 228.04 L509.10 226.95 L510.60 225.87 L512.10 224.78 L513.60 223.71 L515.10 222.63 L516.60 221.57 L518.10 220.50 L519.60 219.44 L521.10 218.38 L522.60 217.33 L524.10 216.28 L525.60 215.24 L527.10 214.20 L528.60 213.16 L530.10 212.13 L531.60 211.10 L533.10 210.08 L534.60 209.06 L536.10 208.04 L537.60 207.03 L539.10 206.03 L540.60 205.03 L542.10 204.04 L543.60 203.05 L545.10 202.07 L546.60 201.09 L548.10 200.12 L549.60 199.15 L551.10 198.18 L552.60 197.22 L554.10 196.26 L555.60 195.31 L557.10 194.37 L558.60 193.42 L560.10 192.48 L561.60 191.55 L563.10 190.62 L564.60 189.70 L566.10 188.78 L567.60 187.86 L569.10 186.95 L570.60 186.04 L572.10 185.14 L573.60 184.24 L575.10 183.35 L576.60 182.46 L578.10 181.58 L579.60 180.70 L581.10 179.83 L582.60 178.96 L584.10 178.09 L585.60 177.24 L587.10 176.38 L588.60 175.53 L590.10 174.69 L591.60 173.85 L593.10 173.01 L594.60 172.18 L596.10 171.36 L597.60 170.54 L599.10 169.72 L600.60 168.91 L602.10 168.11 L603.60 167.31 L605.10 166.51 L606.60 165.72 L608.10 164.94 L609.60 164.16 L611.10 163.38 L612.60 162.61 L614.10 161.85 L615.60 161.09 L617.10 160.33 L618.60 159.59 L620.10 158.84 L621.60 158.10 L623.10 157.37 L624.60 156.64 L626.10 155.92 L627.60 155.20 L629.10 154.49 L630.60 153.78 L632.10 153.08 L633.60 152.39 L635.10 151.69 L636.60 151.01 L638.10 150.33 L639.60 149.66 L641.10 148.99 L642.60 148.32 L644.10 147.67 L645.60 147.01 L647.10 146.37 L648.60 145.73 L650.10 145.09 L651.60 144.46 L653.10 143.84 L654.60 143.22 L656.10 142.60 L657.60 142.00 L659.10 141.39 L660.60 140.80 L662.10 140.21 L663.60 139.62 L665.10 139.04 L666.60 138.47 L668.10 137.90 L669.60 137.34 L671.10 136.78 L672.60 136.23 L674.10 135.69 L675.60 135.15 L677.10 134.61 L678.60 134.08 L680.10 133.56 L681.60 133.05 L683.10 132.53 L684.60 132.03 L686.10 131.53 L687.60 131.04 L689.10 130.55 L690.60 130.07 L692.10 129.59 L693.60 129.12 L695.10 128.66 L696.60 128.20 L698.10 127.75 L699.60 127.31 L701.10 126.87 L702.60 126.43 L704.10 126.01 L705.60 125.58 L707.10 125.16 L708.60 124.75 L710.10 124.34 L711.60 123.94 L713.10 123.54 L714.60 123.15 L716.10 122.76 L717.60 122.38 L719.10 122.01 L720.60 121.64 L722.10 121.28 L723.60 120.93 L725.10 120.58 L726.60 120.24 L728.10 119.90 L729.60 119.57 L731.10 119.25 L732.60 118.93 L734.10 118.62 L735.60 118.31 L737.10 118.01 L738.60 117.72 L740.10 117.44 L741.60 117.16 L743.10 116.88 L744.60 116.61 L746.10 116.35 L747.60 116.10 L749.10 115.85 L750.60 115.61 L752.10 115.37 L753.60 115.14 L755.10 114.92 L756.60 114.70 L758.10 114.49 L759.60 114.29 L761.10 114.09 L762.60 113.90 L764.10 113.71 L765.60 113.53 L767.10 113.36 L768.60 113.20 L770.10 113.04 L771.60 112.88 L773.10 112.74 L774.60 112.60 L776.10 112.46 L777.60 112.34 L779.10 112.22 L780.60 112.10 L782.10 111.99 L783.60 111.89 L785.10 111.80 L786.60 111.71 L788.10 111.63 L789.60 111.55 L791.10 111.49 L792.60 111.42 L794.10 111.37 L795.60 111.32 L797.10 111.28 L798.60 111.24 L800.10 111.21 L801.60 111.19 L803.10 111.18 L804.60 111.17 L806.10 111.16 L807.60 111.17 L809.10 111.18 L810.60 111.20 L812.10 111.22 L813.60 111.25 L815.10 111.29 L816.60 111.33 L818.10 111.38 L819.60 111.44 L821.10 111.50 L822.60 111.57 L824.10 111.65 L825.60 111.73 L827.10 111.83 L828.60 111.92 L830.10 112.03 L831.60 112.14 L833.10 112.25 L834.60 112.38 L836.10 112.51 L837.60 112.65 L839.10 112.79 L840.60 112.94 L842.10 113.10 L843.60 113.27 L845.10 113.44 L846.60 113.61 L848.10 113.80 L849.60 113.99 L851.10 114.19 L852.60 114.39 L854.10 114.61 L855.60 114.82 L857.10 115.05 L858.60 115.28 L860.10 115.52 L861.60 115.77 L863.10 116.02 L864.60 116.28 L866.10 116.55 L867.60 116.82 L869.10 117.10 L870.60 117.38 L872.10 117.68 L873.60 117.98 L875.10 118.29 L876.60 118.62 L878.10 118.94 L879.60 119.28 L881.10 119.62 L882.60 119.97 L884.10 120.33 L885.60 120.69 L887.10 121.06 L888.60 121.44 L890.10 121.82 L891.60 122.21 L893.10 122.61 L894.60 123.01 L896.10 123.42 L897.60 123.84 L899.10 124.26 L900.60 124.70 L902.10 125.13 L903.60 125.58 L905.10 126.03 L906.60 126.49 L907.30 126.71" stroke="#d95319" stroke-dasharray="17.6 17.2" />
<path d="M102.60 617.50 L104.10 615.94 L105.60 614.39 L107.10 612.84 L108.60 611.30 L110.10 609.76 L111.60 608.23 L113.10 606.70 L114.60 605.17 L116.10 603.65 L117.60 602.13 L119.10 600.62 L120.60 599.11 L122.10 597.60 L123.60 596.10 L125.10 594.60 L126.60 593.10 L128.10 591.61 L129.60 590.12 L131.10 588.63 L132.60 587.14 L134.10 585.66 L135.60 584.18 L137.10 582.71 L138.60 581.23 L140.10 579.76 L141.60 578.29 L143.10 576.82 L144.60 575.36 L146.10 573.90 L147.60 572.44 L149.10 570.98 L150.60 569.52 L152.10 568.06 L153.60 566.61 L155.10 565.16 L156.60 563.71 L158.10 562.26 L159.60 560.81 L161.10 559.37 L162.60 557.92 L164.10 556.48 L165.60 555.04 L167.10 553.60 L168.60 552.16 L170.10 550.72 L171.60 549.28 L173.10 547.84 L174.60 546.41 L176.10 544.97 L177.60 543.54 L179.10 542.10 L180.60 540.67 L182.10 539.24 L183.60 537.80 L185.10 536.37 L186.60 534.94 L188.10 533.51 L189.60 532.08 L191.10 530.65 L192.60 529.22 L194.10 527.79 L195.60 526.36 L197.10 524.93 L198.60 523.50 L200.10 522.07 L201.60 520.64 L203.10 519.21 L204.60 517.78 L206.10 516.35 L207.60 514.92 L209.10 513.49 L210.60 512.06 L212.10 510.63 L213.60 509.20 L215.10 507.77 L216.60 506.34 L218.10 504.91 L219.60 503.48 L221.10 502.05 L222.60 500.62 L224.10 499.19 L225.60 497.76 L227.10 496.32 L228.60 494.89 L230.10 493.46 L231.60 492.03 L233.10 490.59 L234.60 489.16 L236.10 487.73 L237.60 486.29 L239.10 484.86 L240.60 483.42 L242.10 481.99 L243.60 480.56 L245.10 479.12 L246.60 477.69 L248.10 476.25 L249.60 474.81 L251.10 473.38 L252.60 471.94 L254.10 470.51 L255.60 469.07 L257.10 467.63 L258.60 466.20 L260.10 464.76 L261.60 463.32 L263.10 461.89 L264.60 460.45 L266.10 459.01 L267.60 457.58 L269.10 456.14 L270.60 454.71 L272.10 453.27 L273.60 451.83 L275.10 450.40 L276.60 448.96 L278.10 447.53 L279.60 446.09 L281.10 444.66 L282.60 443.22 L284.10 441.79 L285.60 440.36 L287.10 438.93 L288.60 437.49 L290.10 436.06 L291.60 434.63 L293.10 433.20 L294.60 431.78 L296.10 430.35 L297.60 428.92 L299.10 427.50 L300.60 426.07 L302.10 424.65 L303.60 423.22 L305.10 421.80 L306.60 420.38 L308.10 418.97 L309.60 417.55 L311.10 416.13 L312.60 414.72 L314.10 413.31 L315.60 411.90 L317.10 410.49 L318.60 409.08 L320.10 407.67 L321.60 406.27 L323.10 404.87 L324.60 403.47 L326.10 402.07 L327.60 400.68 L329.10 399.29 L330.60 397.90 L332.10 396.51 L333.60 395.12 L335.10 393.74 L336.60 392.36 L338.10 390.98 L339.60 389.60 L341.10 388.23 L342.60 386.86 L344.10 385.49 L345.60 384.12 L347.10 382.76 L348.60 381.40 L350.10 380.04 L351.60 378.68 L353.10 377.33 L354.60 375.98 L356.10 374.64 L357.60 373.29 L359.10 371.95 L360.60 370.61 L362.10 369.28 L363.60 367.95 L365.10 366.62 L366.60 365.29 L368.10 363.97 L369.60 362.65 L371.10 361.34 L372.60 360.02 L374.10 358.71 L375.60 357.41 L377.10 356.10 L378.60 354.80 L380.10 353.51 L381.60 352.21 L383.10 350.92 L384.60 349.64 L386.10 348.35 L387.60 347.07 L389.10 345.80 L390.60 344.52 L392.10 343.25 L393.60 341.99 L395.10 340.72 L396.60 339.46 L398.10 338.21 L399.60 336.95 L401.10 335.70 L402.60 334.46 L404.10 333.22 L405.60 331.98 L407.10 330.74 L408.60 329.51 L410.10 328.28 L411.60 327.05 L413.10 325.83 L414.60 324.61 L416.10 323.40 L417.60 322.18 L419.10 320.98 L420.60 319.77 L422.10 318.57 L423.60 317.37 L425.10 316.18 L426.60 314.99 L428.10 313.80 L429.60 312.61 L431.10 311.43 L432.60 310.26 L434.10 309.08 L435.60 307.91 L437.10 306.75 L438.60 305.58 L440.10 304.43 L441.60 303.27 L443.10 302.12 L444.60 300.97 L446.10 299.82 L447.60 298.68 L449.10 297.54 L450.60 296.41 L452.10 295.28 L453.60 294.15 L455.10 293.03 L456.60 291.91 L458.10 290.79 L459.60 289.68 L461.10 288.57 L462.60 287.46 L464.10 286.36 L465.60 285.26 L467.10 284.17 L468.60 283.08 L470.10 281.99 L471.60 280.91 L473.10 279.82 L474.60 278.74 L476.10 277.67 L477.60 276.59 L479.10 275.52 L480.60 274.46 L482.10 273.40 L483.60 272.34 L485.10 271.28 L486.60 270.23 L488.10 269.19 L489.60 268.14 L491.10 267.11 L492.60 266.07 L494.10 265.04 L495.60 264.01 L497.10 262.99 L498.60 261.97 L500.10 260.95 L501.60 259.94 L503.10 258.93 L504.60 257.93 L506.10 256.93 L507.60 255.93 L509.10 254.94 L510.60 253.95 L512.10 252.97 L513.60 251.99 L515.10 251.01 L516.60 250.04 L518.10 249.07 L519.60 248.11 L521.10 247.15 L522.60 246.20 L524.10 245.24 L525.60 244.30 L527.10 243.35 L528.60 242.41 L530.10 241.48 L531.60 240.55 L533.10 239.62 L534.60 238.70 L536.10 237.78 L537.60 236.87 L539.10 235.96 L540.60 235.05 L542.10 234.15 L543.60 233.26 L545.10 232.36 L546.60 231.48 L548.10 230.59 L549.60 229.71 L551.10 228.84 L552.60 227.97 L554.10 227.10 L555.60 226.24 L557.10 225.39 L558.60 224.53 L560.10 223.68 L561.60 222.84 L563.10 222.00 L564.60 221.17 L566.10 220.34 L567.60 219.51 L569.10 218.69 L570.60 217.88 L572.10 217.07 L573.60 216.27 L575.10 215.47 L576.60 214.68 L578.10 213.89 L579.60 213.11 L581.10 212.33 L582.60 211.56 L584.10 210.79 L585.60 210.03 L587.10 209.27 L588.60 208.52 L590.10 207.77 L591.60 207.02 L593.10 206.29 L594.60 205.55 L596.10 204.82 L597.60 204.10 L599.10 203.38 L600.60 202.67 L602.10 201.96 L603.60 201.25 L605.10 200.55 L606.60 199.86 L608.10 199.17 L609.60 198.48 L611.10 197.80 L612.60 197.13 L614.10 196.46 L615.60 195.80 L617.10 195.14 L618.60 194.48 L620.10 193.83 L621.60 193.19 L623.10 192.55 L624.60 191.92 L626.10 191.29 L627.60 190.66 L629.10 190.04 L630.60 189.43 L632.10 188.82 L633.60 188.22 L635.10 187.62 L636.60 187.02 L638.10 186.44 L639.60 185.85 L641.10 185.27 L642.60 184.70 L644.10 184.13 L645.60 183.57 L647.10 183.01 L648.60 182.46 L650.10 181.91 L651.60 181.37 L653.10 180.83 L654.60 180.30 L656.10 179.77 L657.60 179.25 L659.10 178.73 L660.60 178.22 L662.10 177.71 L663.60 177.21 L665.10 176.71 L666.60 176.22 L668.10 175.74 L669.60 175.26 L671.10 174.78 L672.60 174.31 L674.10 173.85 L675.60 173.39 L677.10 172.93 L678.60 172.48 L680.10 172.04 L681.60 171.60 L683.10 171.16 L684.60 170.74 L686.10 170.31 L687.60 169.89 L689.10 169.48 L690.60 169.07 L692.10 168.67 L693.60 168.28 L695.10 167.90 L696.60 167.52 L698.10 167.14 L699.60 166.77 L701.10 166.41 L702.60 166.05 L704.10 165.70 L705.60 165.35 L707.10 165.01 L708.60 164.67 L710.10 164.34 L711.60 164.02 L713.10 163.70 L714.60 163.38 L716.10 163.08 L717.60 162.77 L719.10 162.47 L720.60 162.18 L722.10 161.90 L723.60 161.62 L725.10 161.34 L726.60 161.07 L728.10 160.81 L729.60 160.55 L731.10 160.30 L732.60 160.05 L734.10 159.81 L735.60 159.57 L737.10 159.34 L738.60 159.12 L740.10 158.90 L741.60 158.69 L743.10 158.49 L744.60 158.28 L746.10 158.09 L747.60 157.90 L749.10 157.72 L750.60 157.54 L752.10 157.37 L753.60 157.21 L755.10 157.05 L756.60 156.89 L758.10 156.75 L759.60 156.61 L761.10 156.47 L762.60 156.34 L764.10 156.22 L765.60 156.11 L767.10 155.99 L768.60 155.89 L770.10 155.79 L771.60 155.70 L773.10 155.62 L774.60 155.54 L776.10 155.46 L777.60 155.40 L779.10 155.34 L780.60 155.28 L782.10 155.24 L783.60 155.20 L785.10 155.16 L786.60 155.13 L788.10 155.11 L789.60 155.10 L791.10 155.09 L792.60 155.09 L794.10 155.09 L795.60 155.10 L797.10 155.12 L798.60 155.14 L800.10 155.17 L801.60 155.21 L803.10 155.25 L804.60 155.31 L806.10 155.36 L807.60 155.43 L809.10 155.50 L810.60 155.57 L812.10 155.66 L813.60 155.75 L815.10 155.85 L816.60 155.95 L818.10 156.06 L819.60 156.18 L821.10 156.30 L822.60 156.43 L824.10 156.57 L825.60 156.71 L827.10 156.86 L828.60 157.02 L830.10 157.18 L831.60 157.35 L833.10 157.53 L834.60 157.71 L836.10 157.90 L837.60 158.10 L839.10 158.30 L840.60 158.51 L842.10 158.73 L843.60 158.95 L845.10 159.18 L846.60 159.42 L848.10 159.66 L849.60 159.91 L851.10 160.17 L852.60 160.43 L854.10 160.69 L855.60 160.97 L857.10 161.25 L858.60 161.54 L860.10 161.83 L861.60 162.13 L863.10 162.44 L864.60 162.75 L866.10 163.07 L867.60 163.39 L869.10 163.72 L870.60 164.06 L872.10 164.40 L873.60 164.75 L875.10 165.10 L876.60 165.46 L878.10 165.83 L879.60 166.20 L881.10 166.58 L882.60 166.96 L884.10 167.35 L885.60 167.74 L887.10 168.14 L888.60 168.55 L890.10 168.96 L891.60 169.38 L893.10 169.80 L894.60 170.23 L896.10 170.66 L897.60 171.10 L899.10 171.54 L900.60 171.99 L902.10 172.45 L903.60 172.91 L905.10 173.37 L906.60 173.84 L907.30 174.06" stroke="#d95319" stroke-dasharray="17.6 17.2" />
</g>
<g stroke="#000" stroke-width="1.3" fill="none">
<path d="M102.6 0 V617.5 H964.5 V0" /><line x1="102" y1="1.15" x2="965.2" y2="1.15" />
<line x1="102.60" y1="617.5" x2="102.60" y2="608" />
<line x1="102.60" y1="1" x2="102.60" y2="10.5" />
<line x1="236.70" y1="617.5" x2="236.70" y2="608" />
<line x1="236.70" y1="1" x2="236.70" y2="10.5" />
<line x1="370.80" y1="617.5" x2="370.80" y2="608" />
<line x1="370.80" y1="1" x2="370.80" y2="10.5" />
<line x1="504.90" y1="617.5" x2="504.90" y2="608" />
<line x1="504.90" y1="1" x2="504.90" y2="10.5" />
<line x1="639.00" y1="617.5" x2="639.00" y2="608" />
<line x1="639.00" y1="1" x2="639.00" y2="10.5" />
<line x1="773.10" y1="617.5" x2="773.10" y2="608" />
<line x1="773.10" y1="1" x2="773.10" y2="10.5" />
<line x1="907.20" y1="617.5" x2="907.20" y2="608" />
<line x1="907.20" y1="1" x2="907.20" y2="10.5" />
<line x1="102.6" y1="617.50" x2="111.5" y2="617.50" />
<line x1="964.5" y1="617.50" x2="955.5" y2="617.50" />
<line x1="102.6" y1="529.50" x2="111.5" y2="529.50" />
<line x1="964.5" y1="529.50" x2="955.5" y2="529.50" />
<line x1="102.6" y1="441.50" x2="111.5" y2="441.50" />
<line x1="964.5" y1="441.50" x2="955.5" y2="441.50" />
<line x1="102.6" y1="353.50" x2="111.5" y2="353.50" />
<line x1="964.5" y1="353.50" x2="955.5" y2="353.50" />
<line x1="102.6" y1="265.50" x2="111.5" y2="265.50" />
<line x1="964.5" y1="265.50" x2="955.5" y2="265.50" />
<line x1="102.6" y1="177.50" x2="111.5" y2="177.50" />
<line x1="964.5" y1="177.50" x2="955.5" y2="177.50" />
<line x1="102.6" y1="89.50" x2="111.5" y2="89.50" />
<line x1="964.5" y1="89.50" x2="955.5" y2="89.50" />
</g>
<g font-size="23.2">
<text x="102.60" y="645.3" text-anchor="middle">0</text>
<text x="236.70" y="645.3" text-anchor="middle">20</text>
<text x="370.80" y="645.3" text-anchor="middle">40</text>
<text x="504.90" y="645.3" text-anchor="middle">60</text>
<text x="639.00" y="645.3" text-anchor="middle">80</text>
<text x="773.10" y="645.3" text-anchor="middle">100</text>
<text x="907.20" y="645.3" text-anchor="middle">120</text>
<text x="95.3" y="625.40" text-anchor="end">0</text>
<text x="95.3" y="537.40" text-anchor="end">0.1</text>
<text x="95.3" y="449.40" text-anchor="end">0.2</text>
<text x="95.3" y="361.40" text-anchor="end">0.3</text>
<text x="95.3" y="273.40" text-anchor="end">0.4</text>
<text x="95.3" y="185.40" text-anchor="end">0.5</text>
<text x="95.3" y="97.40" text-anchor="end">0.6</text>
</g>
<!-- green arrow -->
<g>
<line x1="601.2" y1="94.6" x2="692" y2="218.8" stroke="#00ff00" stroke-width="3.4" />
<path d="M699.1 228.6 L694.7 213.2 L691.6 217.5 L685.6 219.8 Z" fill="#00ff00" stroke="#00ff00" stroke-width="1" stroke-linejoin="miter"/>
</g>
<text x="484.6" y="88.9" font-size="29.1">M=1, 2, 3</text>
<text x="201" y="188" font-size="31" font-style="italic" style="font-weight:normal">χ</text>
<text x="222.6" y="188" font-size="29.2">= 0.03, L=1, &amp; K=1</text>
<!-- legend -->
<text x="391.3" y="449.8" font-size="29.5">Al<tspan font-size="23" dy="13.5">2</tspan><tspan dy="-13.5">O</tspan><tspan font-size="23" dy="13.5">3</tspan><tspan dy="-13.5"> + Cu+MWCNT/KO</tspan></text>
<text x="391.3" y="495.8" font-size="29.5">Al<tspan font-size="23" dy="13.5">2</tspan><tspan dy="-13.5">O</tspan><tspan font-size="23" dy="13.5">3</tspan><tspan dy="-13.5"> + Cu+Graphene/KO</tspan></text>
<line x1="740" y1="437.9" x2="826.2" y2="437.9" stroke="#d95319" stroke-width="4.3" stroke-dasharray="17.6 17.4"/>
<line x1="744.8" y1="484.7" x2="831" y2="484.7" stroke="#0072bd" stroke-width="4.6"/>
<!-- axis labels -->
<text x="569.8" y="679.3" font-size="32.5" font-style="italic" text-anchor="middle">x in degrees</text>
<g transform="rotate(-90)">
<text x="-353.5" y="33.5" font-size="33" font-style="italic">G</text>
<text x="-332" y="33.5" font-size="33" font-style="italic">r</text>
<text x="-318" y="17.5" font-size="25" font-style="italic">1/4</text>
<text x="-276.5" y="33.5" font-size="33" font-style="italic">C</text>
<text x="-257.5" y="48.3" font-size="26" font-style="italic">f</text>
</g>
</svg>
</body></html>
